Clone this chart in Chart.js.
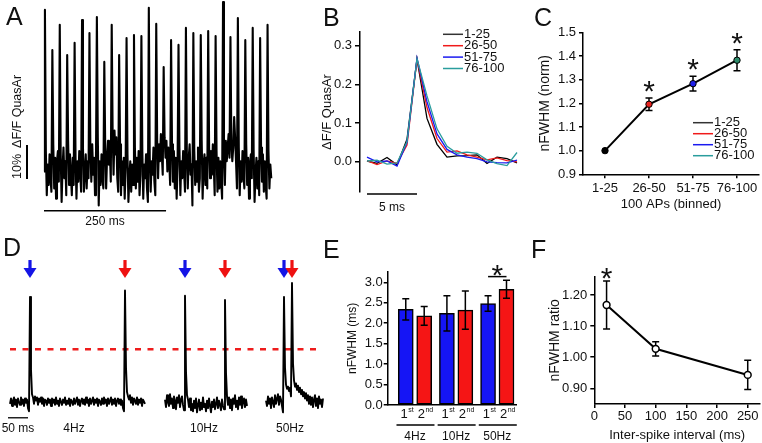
<!DOCTYPE html>
<html>
<head>
<meta charset="utf-8">
<script src="https://cdn.jsdelivr.net/npm/chart.js@4.4.1/dist/chart.umd.min.js"></script>
<style>
  html, body { margin: 0; padding: 0; background: #fff; }
  #fig { position: relative; width: 762px; height: 443px; overflow: hidden; font-family: "Liberation Sans", Arial, sans-serif; }
  #fig canvas { position: absolute; }
  .lbl { position: absolute; font-size: 25px; line-height: 25px; color: #111; }
</style>
</head>
<body>
<div id="fig">
  <canvas id="chartA" width="290" height="232" style="left:0;top:0"></canvas>
  <canvas id="chartB" width="230" height="200" style="left:300px;top:20px"></canvas>
  <canvas id="chartC" width="242" height="205" style="left:520px;top:15px"></canvas>
  <canvas id="chartD" width="330" height="193" style="left:0;top:250px"></canvas>
  <canvas id="chartE" width="185" height="188" style="left:340px;top:255px"></canvas>
  <canvas id="chartF" width="217" height="188" style="left:545px;top:255px"></canvas>
  <div class="lbl" style="left:6px;top:4px">A</div>
  <div class="lbl" style="left:323px;top:5px">B</div>
  <div class="lbl" style="left:534px;top:5px">C</div>
  <div class="lbl" style="left:3px;top:235px">D</div>
  <div class="lbl" style="left:323px;top:237px">E</div>
  <div class="lbl" style="left:531px;top:237px">F</div>
</div>
<script>
// ---- A: spontaneous firing trace (%dF/F), sampled every 1.9 ms, one row per spike cycle ----
const dtA = 1.9;
const traceA = [
  -1,
  46.5, 5, -8, 1, -5, 4, -3, -7,
  34.7, 7, -6, 3, -9, 2, 5, -4,
  42.1, 4, -10, 0, 6, -3, 2, -8,
  33.2, 8, -5, 4, -2, -8, 3, -5,
  36.8, 3, -9, 2, -4, 5, -1, -7,
  43.5, 6, -7, -1, 4, -6, 2, -3,
  39.7, 5, -4, 7, -2, 3, -8, 1,
  44.4, 9, -11, 2, -5, 4, -3, -6,
  31.2, 6, -6, 3, 8, 1, 5, -4,
  42.1, 10, -2, 11, 4, 9, -3, -7,
  33.2, 7, -8, 2, -5, 3, -9, 0,
  38.2, 4, -10, -3, 2, -7, 1, -5,
  39.1, 6, -6, 3, -4, 5, -8, -2,
  38.8, 5, -9, 1, -3, 4, -6, -10,
  47.1, 3, -7, 2, -2, 6, -4, -8,
  42.4, 8, -3, 7, 2, 10, 4, -2,
  29.7, 9, 3, 8, -1, 6, 2, -5,
  37.6, 7, -4, 5, -6, 3, -9, 1,
  36.2, 6, -8, 2, -3, 5, -1, -7,
  41.2, 4, -6, 3, 7, -2, 1, -11,
  39.7, 5, -5, 2, -4, 6, -7, -3,
  39.1, 8, -9, 1, 4, -5, 3, -6,
  40.3, 6, -3, 5, -2, 7, 1, -8,
  38.8, 5, -7, 3, -6, 2, -4, -9,
  48.8, 4, -5, 8, 2, 6, 10, 3,
  38.5, 7, 2, 6, 15, 9, 2, -6,
  44.1, 6, -8, 2, -4, 5, -2, -6,
  37.6, 7, -5, 3, -9, 1, 4, -3,
  41.2, 5, -10, -2, 3, -6, 2, -8,
  38.2, 6, -4, 4, -7, 2, -5, -9,
  42.1, 5, -6, 1, -3
];

// ---- B: averaged spike waveforms per bin (dF/F), 1 ms samples ----
const binLabels = ['1-25', '26-50', '51-75', '76-100'];
const timeB = [0, 1, 2, 3, 4, 5, 6, 7, 8, 9, 10, 11, 12, 13, 14, 15];
const wave1to25 = [0.002, -0.004, 0.011, -0.008, 0.058, 0.265, 0.112, 0.045, 0.012, 0.015, 0.016, 0.018, -0.004, 0.012, 0.008, -0.003];
const wave26to50 = [0.003, -0.007, 0.002, -0.004, 0.043, 0.265, 0.140, 0.060, 0.025, 0.028, 0.018, 0.012, 0.005, 0.010, 0.003, 0.000];
const wave51to75 = [0.012, 0.000, 0.002, -0.011, 0.050, 0.268, 0.155, 0.072, 0.032, 0.018, 0.012, 0.008, 0.000, -0.002, -0.003, 0.004];
const wave76to100 = [0.002, 0.004, -0.006, -0.003, 0.052, 0.266, 0.170, 0.085, 0.040, 0.022, 0.025, 0.022, 0.005, -0.005, -0.010, 0.024];
const bTicks = [0, 0.1, 0.2, 0.3];

// ---- C: normalised FWHM per bin ----
const fwhmNorm = [1.0, 1.196, 1.283, 1.382];
const fwhmNormErr = [0, 0.026, 0.031, 0.044];
const fwhmNormSig = [false, true, true, true];
const cTicks = [0.9, 1.0, 1.1, 1.2, 1.3, 1.4, 1.5];

// ---- D: paired spikes at 4, 10 and 50 Hz (normalised), 2.5 ms samples ----
const dtD = 2.5;
const start4Hz = 0, start10Hz = 387.5, start50Hz = 640;
const trace4Hz = [
  -0.02, 0.03, -0.04, 0.01, 0.04, -0.03, 0.02, -0.05, 0.03, 0.0, -0.03, 0.04, -0.02, 0.02, -0.04, 0.03, -0.01, 0.02, -0.06, -0.09,
  0.98,
  0.30, 0.07, 0.04, -0.02, 0.05, 0.01, 0.04, -0.03, 0.03, 0.0, 0.04, -0.02, 0.03, -0.04, 0.02, 0.01, -0.03, 0.03, -0.01,
  0.02, -0.04, 0.03, -0.01, 0.02, -0.03, 0.04, -0.02, 0.01, -0.04, 0.03, 0.0, -0.03, 0.02, -0.01, 0.04, -0.03, 0.01, -0.02, 0.03,
  -0.04, 0.02, 0.0, -0.03, 0.03, -0.02, 0.01, 0.04, -0.03, 0.02, -0.04, 0.01, 0.03, -0.02, 0.02, -0.03, 0.04, -0.01, 0.02, -0.04,
  0.03, -0.02, 0.01, 0.04, -0.03, 0.02, -0.01, 0.03, -0.04, 0.02, 0.0, -0.03, 0.03, -0.02, 0.04, -0.01, 0.02, -0.04, 0.03, -0.02,
  0.01, 0.04, -0.03, 0.02, -0.02, 0.03, -0.04, 0.01, 0.03, -0.02, 0.02, -0.03, 0.01, -0.06, -0.09,
  1.04,
  0.32, 0.09, 0.05, 0.02, 0.06, -0.01, 0.04, -0.03, 0.03, 0.01, -0.02, 0.04, -0.03, 0.02, -0.01, 0.03, -0.04, 0.02, 0.0, -0.02
];
const trace10Hz = [
  0.02, -0.05, 0.06, 0.0, -0.04, 0.07, -0.02, 0.03, -0.06, 0.05, 0.01, -0.07, 0.04, -0.01, 0.06, -0.05, 0.02, 0.05, -0.03, -0.08,
  0.99,
  0.28, 0.06, 0.02, -0.05, 0.03, -0.08, -0.02, -0.09, 0.01, -0.06, 0.03, -0.1, -0.03, 0.02, -0.08, -0.01, -0.07, 0.04, -0.05,
  -0.02, -0.09, 0.01, -0.06, 0.03, -0.04, -0.1, 0.0, -0.05, 0.02, -0.07, -0.02, 0.04, -0.06, 0.01, -0.03, -0.08, 0.02, -0.04, -0.07,
  0.95,
  0.27, 0.05, -0.03, 0.04, -0.06, 0.02, -0.08, 0.03, -0.02, 0.06, -0.05, 0.01, -0.07, 0.04, -0.03, 0.05, -0.06, 0.0, 0.03, -0.05, 0.02, -0.04
];
const trace50Hz = [
  0.01, -0.04, 0.05, -0.02, 0.03, -0.06, 0.04, 0.0, -0.05, 0.06, -0.02, 0.03, 0.07, -0.03, 0.05, 0.02, -0.04, -0.1,
  0.98,
  0.32, 0.16, 0.12, 0.14, 0.10, 0.13, 0.05,
  1.11,
  0.36, 0.2, 0.14, 0.17, 0.11, 0.15, 0.09, 0.13, 0.07, 0.11, 0.05, 0.09, 0.03, 0.08, 0.01, 0.06, -0.02, 0.05, -0.03, 0.04,
  -0.05, 0.02, 0.06, -0.04, 0.03, -0.06, 0.05, -0.02, 0.02, -0.05, 0.03
];
const firstSpikeTimes = [50, 437.5, 685];
const secondSpikeTimes = [287.5, 537.5, 705];
const halfMaxD = 0.49;

// ---- E: FWHM of 1st and 2nd spike (ms) ----
const freqLabels = ['4Hz', '10Hz', '50Hz'];
const fwhmFirst = [2.34, 2.24, 2.48];
const fwhmFirstErr = [0.26, 0.43, 0.19];
const fwhmSecond = [2.18, 2.32, 2.83];
const fwhmSecondErr = [0.23, 0.47, 0.22];
const eTicks = [0, 0.5, 1.0, 1.5, 2.0, 2.5, 3.0];

// ---- F: FWHM ratio vs inter-spike interval ----
const isi = [20, 100, 250];
const fwhmRatio = [1.168, 1.027, 0.943];
const fwhmRatioErr = [0.077, 0.023, 0.047];
const fTicksY = [0.9, 1.0, 1.1, 1.2];
const fTicksX = [0, 50, 100, 150, 200, 250];

const FONT = '"Liberation Sans", Arial, sans-serif';
const RED = '#f01a1a', BLUE = '#1a1af0', TEAL = '#2a9d9d';
const binColors = ['#000000', RED, BLUE, TEAL];

Chart.defaults.font.family = FONT;
Chart.defaults.font.size = 13;
Chart.defaults.color = '#111';
Chart.defaults.animation = false;
Chart.defaults.responsive = false;
Chart.defaults.events = [];
Chart.defaults.layout.autoPadding = false;
Chart.defaults.plugins.legend.display = false;
Chart.defaults.plugins.tooltip.enabled = false;

// shared axis look: black border, short outward ticks, no grid
function axisStyle(tl) {
    return {
        grid: {drawOnChartArea: false, tickLength: tl, color: '#000', lineWidth: 1.5},
        border: {color: '#000', width: 1.5}
    };
}

function drawErrorBars(chart, dsIndex, values, errs, cap) {
    const ctx = chart.ctx;
    const y = chart.scales.y;
    const meta = chart.getDatasetMeta(dsIndex);
    ctx.save();
    ctx.strokeStyle = '#000';
    ctx.lineWidth = 1.5;
    meta.data.forEach((el, i) => {
        if (!errs[i]) return;
        const top = y.getPixelForValue(values[i] + errs[i]);
        const bot = y.getPixelForValue(values[i] - errs[i]);
        ctx.beginPath();
        ctx.moveTo(el.x, top); ctx.lineTo(el.x, bot);
        ctx.moveTo(el.x - cap, top); ctx.lineTo(el.x + cap, top);
        ctx.moveTo(el.x - cap, bot); ctx.lineTo(el.x + cap, bot);
        ctx.stroke();
    });
    ctx.restore();
}

function drawStar(ctx, x, cy) {
    ctx.save();
    ctx.font = '30px ' + FONT;
    ctx.fillStyle = '#111';
    ctx.textAlign = 'center';
    ctx.textBaseline = 'alphabetic';
    ctx.fillText('*', x, cy + 17);
    ctx.restore();
}

function drawLegend(ctx, x, y0, step) {
    ctx.save();
    ctx.font = '13px ' + FONT;
    ctx.textBaseline = 'middle';
    ctx.textAlign = 'left';
    ctx.lineWidth = 1.5;
    binLabels.forEach((label, i) => {
        const y = y0 + i * step;
        ctx.strokeStyle = i === 0 ? '#333' : binColors[i];
        ctx.beginPath(); ctx.moveTo(x, y); ctx.lineTo(x + 20, y); ctx.stroke();
        ctx.fillStyle = '#111';
        ctx.fillText(label, x + 21, y);
    });
    ctx.restore();
}

// ---------------- A ----------------
new Chart(document.getElementById('chartA'), {
    type: 'line',
    data: {
        datasets: [{
            data: traceA.map((v, i) => ({x: i * dtA, y: v})),
            borderColor: '#000', borderWidth: 2.1, pointRadius: 0, tension: 0,
            borderJoinStyle: 'round', clip: false
        }]
    },
    options: {
        layout: {padding: {left: 44, right: 18, top: 0, bottom: 0}},
        scales: {
            x: {type: 'linear', display: false, min: 0, max: 467, bounds: 'data'},
            y: {display: false, min: -18.82, max: 49.41, bounds: 'data'}
        }
    },
    plugins: [{
        id: 'scaleBarsA',
        afterDraw(chart) {
            const {ctx, scales: {x, y}} = chart;
            ctx.save();
            ctx.strokeStyle = '#000';
            // 250 ms bar
            const yb = y.getPixelForValue(-12.6);
            ctx.lineWidth = 1.5;
            ctx.beginPath(); ctx.moveTo(x.getPixelForValue(0), yb); ctx.lineTo(x.getPixelForValue(250), yb); ctx.stroke();
            ctx.fillStyle = '#111';
            ctx.font = '12px ' + FONT;
            ctx.textAlign = 'center';
            ctx.textBaseline = 'middle';
            ctx.fillText('250 ms', x.getPixelForValue(125), yb + 11);
            // 10% bar
            const xb = chart.chartArea.left - 17;
            ctx.lineWidth = 2;
            ctx.beginPath(); ctx.moveTo(xb, y.getPixelForValue(-3.2)); ctx.lineTo(xb, y.getPixelForValue(6.8)); ctx.stroke();
            ctx.translate(17.5, y.getPixelForValue(-3.2));
            ctx.rotate(-Math.PI / 2);
            ctx.textAlign = 'left';
            ctx.font = '12.5px ' + FONT;
            ctx.fillText('10%', 0, 0);
            ctx.fillText('ΔF/F QuasAr', 31, 0);
            ctx.restore();
        }
    }]
});

// ---------------- B ----------------
const waveSeries = [wave1to25, wave26to50, wave51to75, wave76to100];
new Chart(document.getElementById('chartB'), {
    type: 'line',
    data: {
        datasets: waveSeries.map((s, i) => ({
            label: binLabels[i],
            data: s.map((v, k) => ({x: timeB[k], y: v})),
            borderColor: binColors[i], borderWidth: 1.3, pointRadius: 0, tension: 0,
            order: 3 - i, clip: false
        }))
    },
    options: {
        layout: {padding: {left: 0, right: 10, top: 12, bottom: 28}},
        scales: {
            x: {type: 'linear', display: false, min: -0.7, max: 15.3, bounds: 'data'},
            y: {
                min: -0.078, max: 0.335, bounds: 'data',
                afterFit: s => { s.width = 60; },
                afterBuildTicks: s => { s.ticks = bTicks.map(v => ({value: v})); },
                ticks: {padding: 3, callback: v => v.toFixed(1)},
                title: {display: true, text: 'ΔF/F QuasAr', font: {size: 13}, padding: {top: 20, bottom: 0}},
                ...axisStyle(5)
            }
        }
    },
    plugins: [{
        id: 'decorB',
        afterDraw(chart) {
            const {ctx, scales: {x}} = chart;
            ctx.save();
            ctx.strokeStyle = '#000';
            ctx.lineWidth = 1.5;
            const yb = 174;
            ctx.beginPath(); ctx.moveTo(x.getPixelForValue(0), yb); ctx.lineTo(x.getPixelForValue(5), yb); ctx.stroke();
            ctx.fillStyle = '#111';
            ctx.font = '12px ' + FONT;
            ctx.textAlign = 'center';
            ctx.textBaseline = 'middle';
            ctx.fillText('5 ms', x.getPixelForValue(2.5), yb + 14);
            ctx.restore();
            drawLegend(ctx, 143, 14.3, 11.4);
        }
    }]
});

// ---------------- C ----------------
new Chart(document.getElementById('chartC'), {
    type: 'line',
    data: {
        labels: binLabels,
        datasets: [{
            data: fwhmNorm,
            borderColor: '#000', borderWidth: 2, tension: 0,
            pointRadius: 3.2, pointBorderWidth: 1, pointBorderColor: '#000',
            pointBackgroundColor: ['#000', '#e8231f', '#1f1fe8', '#2e8b6a'], clip: false
        }]
    },
    options: {
        layout: {padding: {left: 0, right: 3, top: 17.3, bottom: 0}},
        scales: {
            x: {
                type: 'category', offset: true,
                afterFit: s => { s.height = 45.7; },
                ticks: {padding: 2, maxRotation: 0, minRotation: 0, autoSkip: false},
                title: {display: true, text: '100 APs (binned)', font: {size: 13}, padding: {top: 0, bottom: 8}},
                ...axisStyle(4)
            },
            y: {
                min: 0.9, max: 1.5, bounds: 'data',
                afterFit: s => { s.width = 63; },
                afterBuildTicks: s => { s.ticks = cTicks.map(v => ({value: v})); },
                ticks: {padding: 3, callback: v => v.toFixed(1)},
                title: {display: true, text: 'nFWHM (norm)', font: {size: 14}, padding: {top: 16.6, bottom: 0}},
                ...axisStyle(4)
            }
        }
    },
    plugins: [{
        id: 'decorC',
        beforeDatasetsDraw(chart) {
            drawErrorBars(chart, 0, fwhmNorm, fwhmNormErr, 3.5);
        },
        afterDraw(chart) {
            const y = chart.scales.y;
            const meta = chart.getDatasetMeta(0);
            fwhmNormSig.forEach((sig, i) => {
                if (sig) drawStar(chart.ctx, meta.data[i].x, y.getPixelForValue(fwhmNorm[i] + fwhmNormErr[i]) - 14);
            });
            drawLegend(chart.ctx, 173, 107.7, 11);
        }
    }]
});

// ---------------- D ----------------
const segD = [[start4Hz, trace4Hz], [start10Hz, trace10Hz], [start50Hz, trace50Hz]];
function drawArrow(ctx, x, tipY, color) {
    ctx.fillStyle = color;
    ctx.fillRect(x - 1.6, tipY - 18, 3.2, 10);
    ctx.beginPath();
    ctx.moveTo(x - 6.5, tipY - 10); ctx.lineTo(x + 6.5, tipY - 10); ctx.lineTo(x, tipY);
    ctx.closePath(); ctx.fill();
}
new Chart(document.getElementById('chartD'), {
    type: 'line',
    data: {
        datasets: segD.map(([t0, tr]) => ({
            data: tr.map((v, i) => ({x: t0 + i * dtD, y: v})),
            borderColor: '#000', borderWidth: 1.9, pointRadius: 0, tension: 0,
            borderJoinStyle: 'round', clip: false
        }))
    },
    options: {
        layout: {padding: 0},
        scales: {
            x: {type: 'linear', display: false, min: -25, max: 800, bounds: 'data'},
            y: {display: false, min: -0.386, max: 1.418, bounds: 'data'}
        }
    },
    plugins: [{
        id: 'decorD',
        beforeDatasetsDraw(chart) {
            const {ctx, scales: {x, y}} = chart;
            ctx.save();
            ctx.strokeStyle = '#ee1c1c';
            ctx.lineWidth = 2.5;
            ctx.setLineDash([6, 6.5]);
            const yh = y.getPixelForValue(halfMaxD);
            ctx.beginPath(); ctx.moveTo(x.getPixelForValue(0), yh); ctx.lineTo(x.getPixelForValue(770), yh); ctx.stroke();
            ctx.restore();
        },
        afterDatasetsDraw(chart) {
            const {ctx, scales: {x, y}} = chart;
            ctx.save();
            const tip = y.getPixelForValue(1.156);
            firstSpikeTimes.forEach(t => drawArrow(ctx, x.getPixelForValue(t), tip, '#1414e6'));
            secondSpikeTimes.forEach(t => drawArrow(ctx, x.getPixelForValue(t), tip, '#ee1111'));
            // 50 ms scale bar
            const yb = y.getPixelForValue(-0.15);
            ctx.strokeStyle = '#222';
            ctx.lineWidth = 1.5;
            ctx.beginPath(); ctx.moveTo(x.getPixelForValue(-5), yb); ctx.lineTo(x.getPixelForValue(45), yb); ctx.stroke();
            ctx.fillStyle = '#111';
            ctx.font = '12px ' + FONT;
            ctx.textAlign = 'center';
            ctx.textBaseline = 'middle';
            const ly = yb + 10.5;
            ctx.fillText('50 ms', x.getPixelForValue(20), ly);
            [160, 485, 700].forEach((t, i) => ctx.fillText(freqLabels[i], x.getPixelForValue(t), ly));
            ctx.restore();
        }
    }]
});

// ---------------- E ----------------
const barOffset = 0.224;
new Chart(document.getElementById('chartE'), {
    type: 'bar',
    data: {
        datasets: [
            {
                label: '1st',
                data: fwhmFirst.map((v, i) => ({x: i + 1 - barOffset, y: v})),
                backgroundColor: '#1515f5', borderColor: '#000', borderWidth: 1.5,
                barThickness: 15, grouped: false, borderSkipped: false
            },
            {
                label: '2nd',
                data: fwhmSecond.map((v, i) => ({x: i + 1 + barOffset, y: v})),
                backgroundColor: '#f51515', borderColor: '#000', borderWidth: 1.5,
                barThickness: 15, grouped: false, borderSkipped: false
            }
        ]
    },
    options: {
        layout: {padding: {left: 0, right: 8.3, top: 16.7, bottom: 0}},
        scales: {
            x: {
                type: 'linear', min: 0.337, max: 3.472, bounds: 'data', offset: false,
                afterFit: s => { s.height = 38; },
                ticks: {display: false},
                grid: {display: false},
                border: {color: '#000', width: 1.5}
            },
            y: {
                min: 0, max: 3.26, bounds: 'data',
                afterFit: s => { s.width = 47.7; },
                afterBuildTicks: s => { s.ticks = eTicks.map(v => ({value: v})); },
                ticks: {padding: 1, callback: v => v.toFixed(1)},
                title: {display: true, text: 'nFWHM (ms)', font: {size: 12}, padding: {top: 5.1, bottom: 0}},
                ...axisStyle(4)
            }
        }
    },
    plugins: [{
        id: 'decorE',
        afterDatasetsDraw(chart) {
            const {ctx, scales: {x, y}} = chart;
            drawErrorBars(chart, 0, fwhmFirst, fwhmFirstErr, 3.5);
            drawErrorBars(chart, 1, fwhmSecond, fwhmSecondErr, 3.5);
            ctx.save();
            ctx.fillStyle = '#111';
            ctx.textAlign = 'left';
            ctx.textBaseline = 'alphabetic';
            const ordinals = [['1', 'st'], ['2', 'nd']];
            const base = 418 - 255;
            [0, 1].forEach(d => {
                chart.getDatasetMeta(d).data.forEach(el => {
                    const [num, sup] = ordinals[d];
                    ctx.font = '13px ' + FONT;
                    const w1 = ctx.measureText(num).width;
                    ctx.font = '7px ' + FONT;
                    const w2 = ctx.measureText(sup).width;
                    const x0 = el.x - (w1 + w2) / 2 + 1;
                    ctx.font = '13px ' + FONT;
                    ctx.fillText(num, x0, base);
                    ctx.font = '7px ' + FONT;
                    ctx.fillText(sup, x0 + w1 + 0.5, base - 6);
                });
            });
            // group underlines and labels
            ctx.strokeStyle = '#000';
            ctx.lineWidth = 1.5;
            ctx.font = '12px ' + FONT;
            ctx.textAlign = 'center';
            ctx.textBaseline = 'middle';
            freqLabels.forEach((label, i) => {
                const cx = x.getPixelForValue(i + 1);
                ctx.beginPath(); ctx.moveTo(cx - 18.5, 425 - 255); ctx.lineTo(cx + 19.5, 425 - 255); ctx.stroke();
                ctx.fillText(label, cx, 436.7 - 255);
            });
            // significance bracket over 50Hz pair
            const m0 = chart.getDatasetMeta(0).data[2], m1 = chart.getDatasetMeta(1).data[2];
            const yb = y.getPixelForValue(3.14);
            ctx.beginPath(); ctx.moveTo(m0.x, yb); ctx.lineTo(m1.x, yb); ctx.stroke();
            ctx.restore();
            drawStar(ctx, (m0.x + m1.x) / 2, yb - 8.7);
        }
    }]
});

// ---------------- F ----------------
new Chart(document.getElementById('chartF'), {
    type: 'line',
    data: {
        datasets: [{
            data: isi.map((v, i) => ({x: v, y: fwhmRatio[i]})),
            borderColor: '#000', borderWidth: 2, tension: 0,
            pointRadius: 3.4, pointBackgroundColor: '#fff', pointBorderColor: '#000', pointBorderWidth: 1.5,
            clip: false
        }]
    },
    options: {
        layout: {padding: {left: 0, right: 2, top: 21.7, bottom: 0}},
        scales: {
            x: {
                type: 'linear', min: 0, max: 270, bounds: 'data',
                afterFit: s => { s.height = 39; },
                afterBuildTicks: s => { s.ticks = fTicksX.map(v => ({value: v})); },
                ticks: {padding: 1, maxRotation: 0, autoSkip: false},
                title: {display: true, text: 'Inter-spike interval (ms)', font: {size: 13}, padding: {top: 0, bottom: 0}},
                ...axisStyle(4)
            },
            y: {
                min: 0.8495, max: 1.259, bounds: 'data',
                afterFit: s => { s.width = 49.3; },
                afterBuildTicks: s => { s.ticks = fTicksY.map(v => ({value: v})); },
                ticks: {padding: 3, callback: v => v.toFixed(2)},
                title: {display: true, text: 'nFWHM ratio', font: {size: 14}, padding: {top: 1.6, bottom: 0}},
                ...axisStyle(4)
            }
        }
    },
    plugins: [{
        id: 'decorF',
        beforeDatasetsDraw(chart) {
            drawErrorBars(chart, 0, fwhmRatio, fwhmRatioErr, 3.5);
        },
        afterDraw(chart) {
            const el = chart.getDatasetMeta(0).data[0];
            drawStar(chart.ctx, el.x, chart.scales.y.getPixelForValue(fwhmRatio[0] + fwhmRatioErr[0]) - 10);
        }
    }]
});
</script>
</body>
</html>
